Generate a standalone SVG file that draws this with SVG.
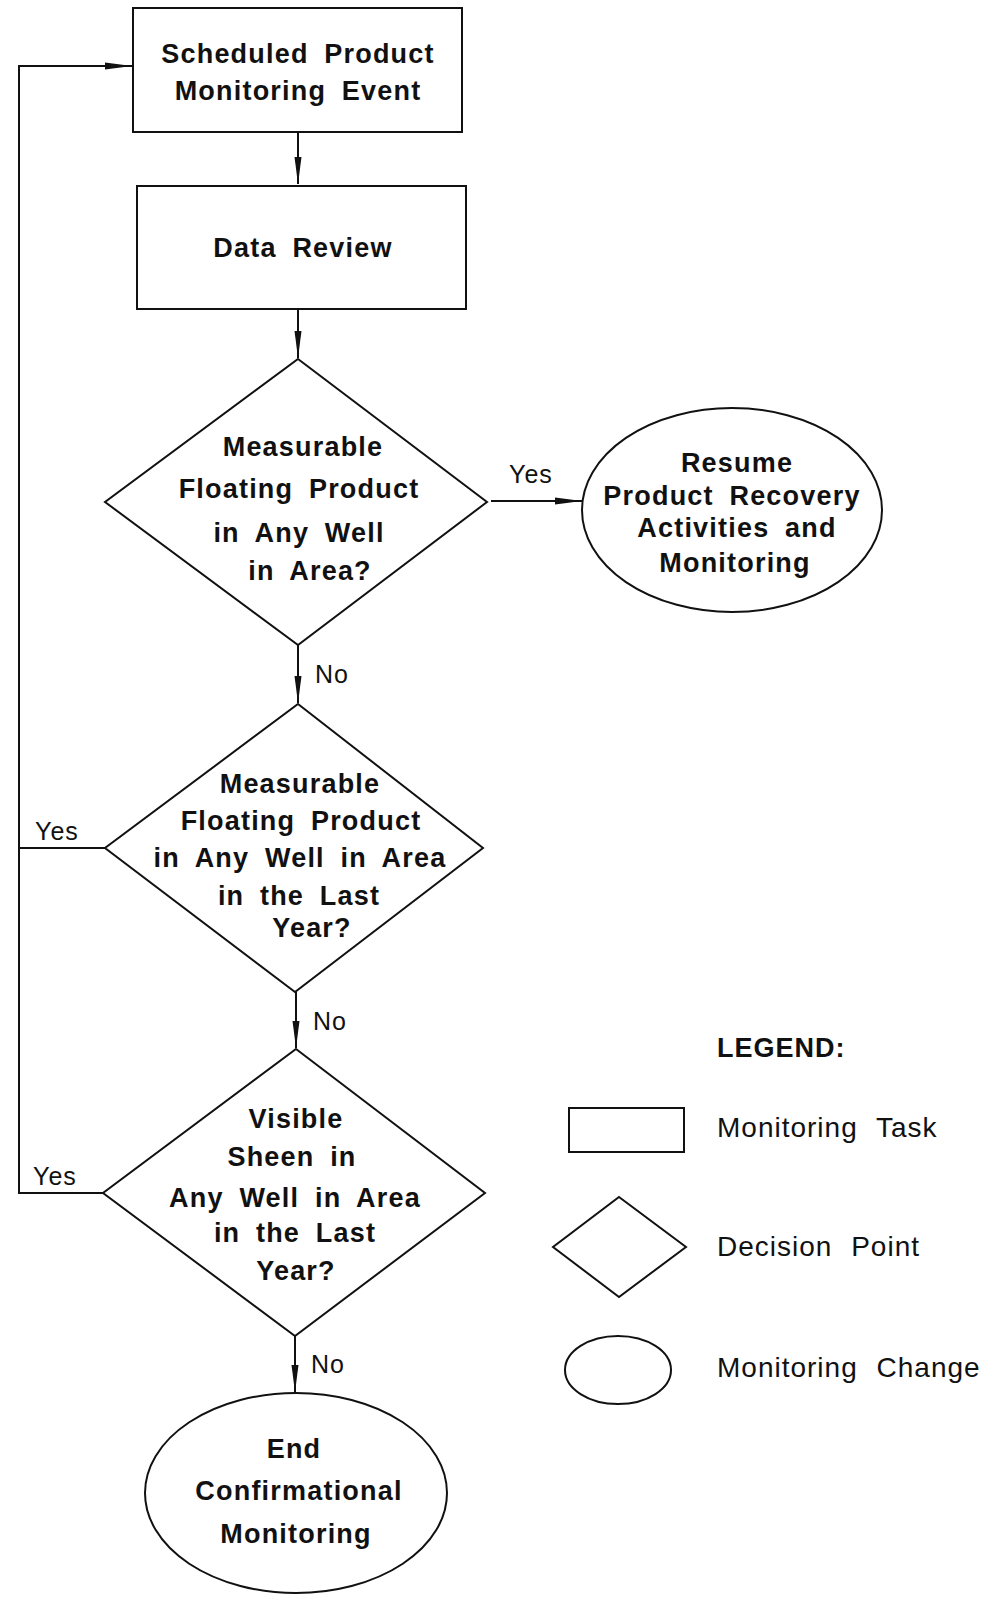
<svg xmlns="http://www.w3.org/2000/svg" width="984" height="1597" viewBox="0 0 984 1597">
<style>
.shape{fill:#fff;stroke:#111;stroke-width:2}
.conn{fill:none;stroke:#111;stroke-width:2}
.t{font-family:"Liberation Sans",Arial,sans-serif;font-weight:bold;font-size:27px;letter-spacing:1.2px;word-spacing:7px;fill:#111;text-anchor:middle}
.lbl{font-family:"Liberation Sans",Arial,sans-serif;font-size:25px;letter-spacing:1px;fill:#111}
.leg{font-family:"Liberation Sans",Arial,sans-serif;font-size:28px;letter-spacing:1px;word-spacing:10px;fill:#111}
</style>
<defs>
<marker id="arr" markerUnits="userSpaceOnUse" markerWidth="28" markerHeight="8" refX="27" refY="4" orient="auto">
<path d="M0,0.5 L27,4 L0,7.5 z" fill="#111"/>
</marker>
</defs>
<rect width="984" height="1597" fill="#fff"/>
<g id="connectors">
<line class="conn" x1="298" y1="132" x2="298" y2="184" marker-end="url(#arr)"/>
<line class="conn" x1="298" y1="309" x2="298" y2="358" marker-end="url(#arr)"/>
<line class="conn" x1="491" y1="501" x2="582" y2="501" marker-end="url(#arr)"/>
<line class="conn" x1="298" y1="645" x2="298" y2="703" marker-end="url(#arr)"/>
<line class="conn" x1="296" y1="992" x2="296" y2="1048" marker-end="url(#arr)"/>
<line class="conn" x1="295" y1="1336" x2="295" y2="1392" marker-end="url(#arr)"/>
<polyline class="conn" points="103,1193 19,1193 19,66 132,66" marker-end="url(#arr)"/>
<line class="conn" x1="105" y1="848" x2="19" y2="848"/>
<text class="lbl" x="509" y="483">Yes</text>
<text class="lbl" x="315" y="683">No</text>
<text class="lbl" x="35" y="840">Yes</text>
<text class="lbl" x="313" y="1030">No</text>
<text class="lbl" x="33" y="1185">Yes</text>
<text class="lbl" x="311" y="1373">No</text>
</g>
<g id="scheduled">
<rect class="shape" x="133" y="8" width="329" height="124"/>
<text class="t" x="298" y="63">Scheduled Product</text>
<text class="t" x="298" y="100">Monitoring Event</text>
</g>
<g id="datareview">
<rect class="shape" x="137" y="186" width="329" height="123"/>
<text class="t" x="303" y="257">Data Review</text>
</g>
<g id="decision1">
<polygon class="shape" points="298,359 487,502 298,645 105,502"/>
<text class="t" x="303" y="456">Measurable</text>
<text class="t" x="299" y="498">Floating Product</text>
<text class="t" x="299" y="542">in Any Well</text>
<text class="t" x="310" y="580">in Area?</text>
</g>
<g id="resume">
<ellipse class="shape" cx="732" cy="510" rx="150" ry="102"/>
<text class="t" x="737" y="472">Resume</text>
<text class="t" x="732" y="505">Product Recovery</text>
<text class="t" x="737" y="537">Activities and</text>
<text class="t" x="735" y="572">Monitoring</text>
</g>
<g id="decision2">
<polygon class="shape" points="298,704 483,848 295,992 105,848"/>
<text class="t" x="300" y="793">Measurable</text>
<text class="t" x="301" y="830">Floating Product</text>
<text class="t" x="300" y="867">in Any Well in Area</text>
<text class="t" x="299" y="905">in the Last</text>
<text class="t" x="312" y="937">Year?</text>
</g>
<g id="decision3">
<polygon class="shape" points="296,1049 485,1193 295,1336 103,1193"/>
<text class="t" x="296" y="1128">Visible</text>
<text class="t" x="292" y="1166">Sheen in</text>
<text class="t" x="295" y="1207">Any Well in Area</text>
<text class="t" x="295" y="1242">in the Last</text>
<text class="t" x="296" y="1280">Year?</text>
</g>
<g id="end">
<ellipse class="shape" cx="296" cy="1493" rx="151" ry="100"/>
<text class="t" x="294" y="1458">End</text>
<text class="t" x="299" y="1500">Confirmational</text>
<text class="t" x="296" y="1543">Monitoring</text>
</g>
<g id="legend">
<text class="t" x="717" y="1057" style="text-anchor:start;letter-spacing:1px">LEGEND:</text>
<rect class="shape" x="569" y="1108" width="115" height="44"/>
<text class="leg" x="717" y="1137">Monitoring Task</text>
<polygon class="shape" points="619,1197 686,1247 619,1297 553,1247"/>
<text class="leg" x="717" y="1256">Decision Point</text>
<ellipse class="shape" cx="618" cy="1370" rx="53" ry="34"/>
<text class="leg" x="717" y="1377">Monitoring Change</text>
</g>
</svg>
